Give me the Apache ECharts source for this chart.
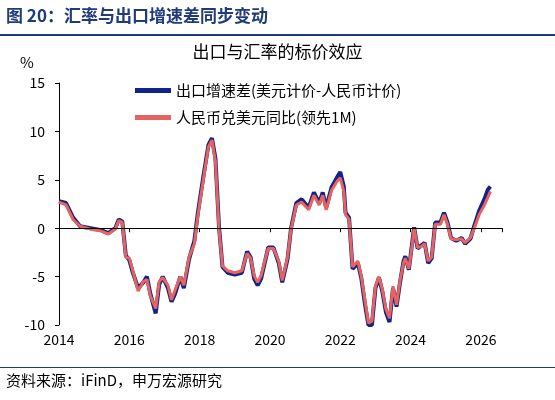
<!DOCTYPE html>
<html><head><meta charset="utf-8">
<script src="https://cdn.jsdelivr.net/npm/echarts@6/dist/echarts.min.js"></script>
<style>body{margin:0}#main{width:555px;height:400px}</style></head>
<body><div id="main"></div>
<script>
// 出口增速差（美元计价-人民币计价）
const exportGap = [
[2014.0,2.8],[2014.2,2.6],[2014.4,1.1],[2014.6,0.2],[2014.9,0],[2015.2,-0.2],[2015.4,-0.5],[2015.6,0],[2015.7,0.9],[2015.8,0.7],
[2015.9,-2.8],[2016.0,-3.3],[2016.1,-4.6],[2016.25,-6.2],[2016.4,-5.6],[2016.5,-5.0],[2016.6,-6.8],[2016.75,-8.8],[2016.85,-5.8],[2016.95,-5.0],
[2017.1,-6.2],[2017.2,-7.6],[2017.3,-6.8],[2017.45,-5.0],[2017.55,-6.2],[2017.7,-3.2],[2017.85,-1.3],[2017.95,1.6],[2018.1,5.2],[2018.25,8.6],
[2018.35,9.3],[2018.45,7.2],[2018.55,0.2],[2018.65,-4.0],[2018.8,-4.6],[2019.0,-4.8],[2019.2,-4.6],[2019.35,-2.4],[2019.45,-3.0],[2019.55,-5.2],
[2019.65,-5.9],[2019.75,-5.2],[2019.85,-3.6],[2019.95,-2.0],[2020.1,-2.0],[2020.25,-3.6],[2020.35,-5.6],[2020.5,-3.2],[2020.6,0],[2020.75,2.6],
[2020.9,3.0],[2021.1,2.1],[2021.25,3.7],[2021.4,2.6],[2021.5,3.7],[2021.6,2.1],[2021.75,4.2],[2021.9,5.2],[2022.0,5.8],[2022.1,4.3],
[2022.15,1.6],[2022.25,1.1],[2022.35,-4.2],[2022.5,-3.6],[2022.6,-5.2],[2022.7,-7.8],[2022.8,-10],[2022.9,-10],[2023.0,-6.2],[2023.1,-5.1],
[2023.2,-6.6],[2023.3,-8.7],[2023.4,-9.7],[2023.5,-6.2],[2023.6,-8.1],[2023.7,-5.6],[2023.8,-3.4],[2023.85,-2.9],[2023.95,-4.3],[2024.05,-1.4],
[2024.1,0.1],[2024.2,-2.1],[2024.3,-1.8],[2024.4,-1.5],[2024.5,-3.6],[2024.6,-3.1],[2024.7,0.6],[2024.85,0.6],[2024.95,1.6],[2025.05,0.6],
[2025.15,-1.0],[2025.3,-1.3],[2025.45,-1.0],[2025.55,-1.6],[2025.7,-1.1],[2025.8,0.1],[2025.95,1.8],[2026.1,3.0],[2026.2,4.0],[2026.27,4.3]
];
// 人民币兑美元同比（领先1M）
const cnyYoy = [
[2014.0,2.7],[2014.2,2.4],[2014.4,0.9],[2014.6,0.2],[2014.9,-0.1],[2015.2,-0.3],[2015.4,-0.6],[2015.6,-0.1],[2015.7,0.8],[2015.8,0.6],
[2015.9,-3.0],[2016.0,-3.1],[2016.1,-4.4],[2016.25,-6.5],[2016.4,-5.5],[2016.5,-5.3],[2016.6,-7.0],[2016.75,-8.3],[2016.85,-5.5],[2016.95,-5.1],
[2017.1,-5.9],[2017.2,-7.4],[2017.3,-6.4],[2017.45,-5.0],[2017.55,-5.9],[2017.7,-3.0],[2017.85,-1.6],[2017.95,1.3],[2018.1,4.9],[2018.25,8.4],
[2018.35,9.1],[2018.45,6.9],[2018.55,-0.1],[2018.65,-3.9],[2018.8,-4.4],[2019.0,-4.6],[2019.2,-4.4],[2019.35,-2.6],[2019.45,-3.1],[2019.55,-4.9],
[2019.65,-5.6],[2019.75,-4.9],[2019.85,-3.4],[2019.95,-2.1],[2020.1,-2.1],[2020.25,-3.4],[2020.35,-5.4],[2020.5,-3.0],[2020.6,-0.1],[2020.75,2.4],
[2020.9,2.7],[2021.1,1.9],[2021.25,3.4],[2021.4,2.4],[2021.5,3.4],[2021.6,1.9],[2021.75,3.9],[2021.9,4.8],[2022.0,5.2],[2022.1,3.8],
[2022.15,1.4],[2022.25,0.9],[2022.35,-4.0],[2022.5,-3.4],[2022.6,-5.0],[2022.7,-7.4],[2022.8,-9.8],[2022.9,-9.6],[2023.0,-6.0],[2023.1,-5.0],
[2023.2,-6.4],[2023.3,-8.4],[2023.4,-9.3],[2023.5,-6.0],[2023.6,-7.9],[2023.7,-5.4],[2023.8,-3.6],[2023.85,-3.1],[2023.95,-4.2],[2024.05,-1.6],
[2024.1,0],[2024.2,-2.0],[2024.3,-1.9],[2024.4,-1.6],[2024.5,-3.4],[2024.6,-3.0],[2024.7,0.4],[2024.85,0.4],[2024.95,1.4],[2025.05,0.4],
[2025.15,-1.1],[2025.3,-1.2],[2025.45,-1.1],[2025.55,-1.5],[2025.7,-1.0],[2025.8,-0.1],[2025.95,1.4],[2026.1,2.4],[2026.2,3.2],[2026.27,3.8]
];
const seriesNames = ['出口增速差(美元计价-人民币计价)', '人民币兑美元同比(领先1M)'];
const yTicks = [-10, -5, 0, 5, 10, 15];

const chart = echarts.init(document.getElementById('main'));
const font = '"Noto Sans CJK SC", sans-serif';
chart.setOption({
  animation: false,
  textStyle: { fontFamily: font },
  graphic: [
    { type: 'text', left: 6, top: 7, style: { text: '图 20：汇率与出口增速差同步变动', font: 'bold 17px ' + font, fill: '#1f3b7a' } },
    { type: 'rect', shape: { x: 0, y: 34, width: 555, height: 2 }, style: { fill: '#1f3b7a' } },
    { type: 'rect', shape: { x: 0, y: 367, width: 555, height: 1 }, style: { fill: '#1f3b7a' } },
    { type: 'text', left: 6, top: 373, style: { text: '资料来源：iFinD，申万宏源研究', font: '15px ' + font, fill: '#000' } },
    { type: 'text', left: 20, top: 55, style: { text: '%', font: '15px ' + font, fill: '#000' } }
  ],
  title: { text: '出口与汇率的标价效应', left: 'center', top: 38, textStyle: { fontSize: 17, fontWeight: 'normal', color: '#000', fontFamily: font } },
  legend: {
    orient: 'vertical', left: 130, top: 78, itemGap: 12, itemWidth: 36, itemHeight: 5,
    icon: 'rect', textStyle: { fontSize: 15, color: '#000', fontFamily: font },
    data: seriesNames
  },
  grid: { left: 59, right: 53, top: 83, bottom: 75 },
  xAxis: {
    type: 'value', min: 2014, max: 2026.6, interval: 2,
    axisLine: { lineStyle: { color: '#000' } }, axisTick: { show: true, length: 4, inside: false, lineStyle: { color: '#000' } },
    splitLine: { show: false },
    axisLabel: { fontSize: 14, color: '#000', formatter: v => (v % 2 === 0 ? String(v) : '') }
  },
  yAxis: {
    type: 'value', min: yTicks[0], max: yTicks[yTicks.length - 1], interval: 5,
    axisLine: { show: true, lineStyle: { color: '#000' } }, axisTick: { show: true, length: 4, lineStyle: { color: '#000' } },
    splitLine: { show: false },
    axisLabel: { fontSize: 14, color: '#000', margin: 14 }
  },
  series: [
    { name: seriesNames[0], type: 'line', data: exportGap, showSymbol: false, lineStyle: { color: '#10238a', width: 4 }, itemStyle: { color: '#10238a' },
      markLine: { silent: true, symbol: 'none', label: { show: false }, lineStyle: { color: '#000', width: 1, type: 'solid' }, data: [{ yAxis: 0 }] } },
    { name: seriesNames[1], type: 'line', data: cnyYoy, showSymbol: false, lineStyle: { color: '#e8635e', width: 3 }, itemStyle: { color: '#e8635e' } }
  ]
});
</script></body></html>
